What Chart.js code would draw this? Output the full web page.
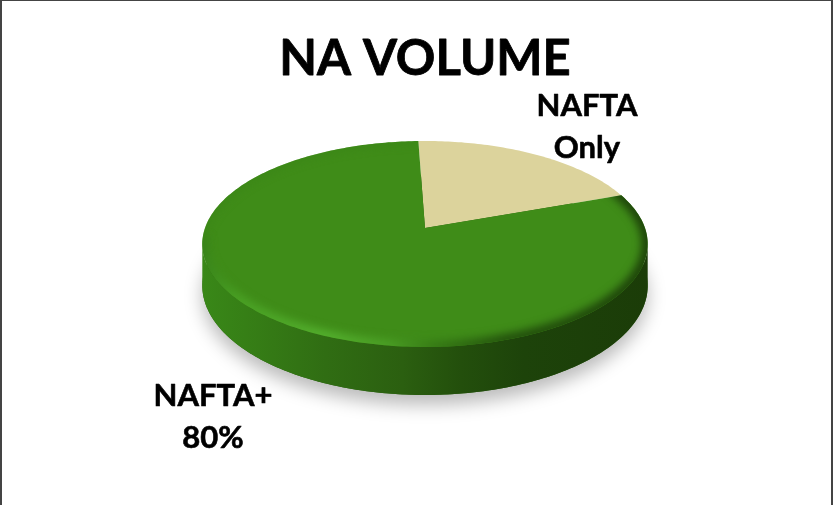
<!DOCTYPE html>
<html>
<head>
<meta charset="utf-8">
<title>NA Volume</title>
<script src="https://cdn.jsdelivr.net/npm/chart.js@4/dist/chart.umd.js"></script>
<style>
  html, body { margin: 0; padding: 0; background: #fff; overflow: hidden; }
  #frame {
    position: fixed; left: 0; top: 0; width: 833px; height: 505px; box-sizing: border-box;
    border-top: 1px solid #444; border-left: 2px solid #444; border-right: 2px solid #444;
    pointer-events: none;
  }
  canvas { display: block; }
</style>
</head>
<body>
<canvas id="volumeChart" width="833" height="505"></canvas>
<div id="frame"></div>
<script>
const chartTitle = 'NA VOLUME';
const categories = ['NAFTA Only', 'NAFTA+'];
const volumeShare = [20, 80];
const sliceColors = ['#dcd39c', '#3f8c18'];

// tilted disc: where the pie centre lands, and how the plane foreshortens
const disc = { cx: 425, cy: 228, halfW: 220, halfH: 100.5, persp: 0.155, depth: 40.6 };
const STEP = Math.PI / 180;

function project(angle, r = 1, drop = 0) {
  const u = r * Math.cos(angle);
  const v = r * Math.sin(angle);
  const w = 1 / (1 - disc.persp * v);
  return [disc.cx + disc.halfW * u * w, disc.cy + disc.halfH * v * w + drop * disc.depth * w];
}

function traceRim(ctx, from, to, drop = 0, start = false) {
  const n = Math.max(1, Math.ceil(Math.abs(to - from) / STEP));
  for (let i = 0; i <= n; i++) {
    const p = project(from + (to - from) * i / n, 1, drop);
    if (i === 0 && start) ctx.moveTo(p[0], p[1]);
    else ctx.lineTo(p[0], p[1]);
  }
}

function hGradient(ctx, stops) {
  const g = ctx.createLinearGradient(200, 0, 650, 0);
  stops.forEach(s => g.addColorStop(s[0], s[1]));
  return g;
}

function drawShadow(ctx) {
  ctx.save();
  ctx.shadowColor = 'rgba(0,0,0,0.27)';
  ctx.shadowBlur = 18;
  ctx.shadowOffsetY = 10;
  ctx.fillStyle = '#2a5f10';
  ctx.beginPath();
  traceRim(ctx, 0, Math.PI * 2, 1, true);
  ctx.closePath();
  ctx.fill();
  ctx.restore();
}

// front wall of the disc, only the part of each slice facing the viewer
function drawWall(ctx, arcs) {
  const frontA = Math.asin(disc.persp);
  const frontB = Math.PI - frontA;
  arcs.forEach(arc => {
    const from = Math.max(arc.startAngle, frontA);
    const to = Math.min(arc.endAngle, frontB);
    if (to <= from) return;
    ctx.beginPath();
    traceRim(ctx, from, to, 0, true);
    traceRim(ctx, to, from, 1);
    ctx.closePath();
    ctx.fillStyle = hGradient(ctx, [
      [0, '#398818'], [0.1, '#367f16'], [0.28, '#306d13'], [0.45, '#2b5f10'],
      [0.58, '#234f0c'], [0.72, '#1d430a'], [1, '#1b3c08']
    ]);
    ctx.fill();
  });
}

function sliceOutline(ctx, arc) {
  ctx.beginPath();
  ctx.moveTo(disc.cx, disc.cy);
  traceRim(ctx, arc.startAngle, arc.endAngle);
  ctx.closePath();
}

function drawTop(ctx, arcs) {
  arcs.forEach(arc => {
    sliceOutline(ctx, arc);
    ctx.fillStyle = arc.options.backgroundColor;
    ctx.fill();
  });
}

// soft bevel on the rim of the large slice
function drawBevel(ctx, arc) {
  ctx.save();
  sliceOutline(ctx, arc);
  ctx.clip();
  ctx.filter = 'blur(4px)';
  ctx.lineWidth = 12;
  ctx.strokeStyle = hGradient(ctx, [
    [0, '#37811a'], [0.08, '#49a024'], [0.28, '#54b02e'], [0.42, '#4a9e25'],
    [0.52, '#367a15'], [0.68, '#224f0c'], [1, '#1c4009']
  ]);
  ctx.beginPath();
  traceRim(ctx, arc.startAngle - 0.1, 175 * STEP, 0, true);
  ctx.stroke();
  ctx.strokeStyle = '#3a8517';
  ctx.lineWidth = 5;
  ctx.beginPath();
  traceRim(ctx, 170 * STEP, arc.endAngle, 0, true);
  ctx.stroke();
  ctx.restore();
}

const tiltedPie = {
  id: 'tiltedPie',
  beforeDatasetDraw(chart, args) {
    const ctx = chart.ctx;
    const arcs = chart.getDatasetMeta(args.index).data;
    const largest = arcs.reduce((a, b) => (b.circumference > a.circumference ? b : a));
    drawShadow(ctx);
    drawWall(ctx, arcs);
    drawTop(ctx, arcs);
    drawBevel(ctx, largest);
    return false;
  }
};

function heavyText(ctx, text, x, y) {
  ctx.fillText(text, x, y);
  ctx.strokeText(text, x, y);
}

const chartLabels = {
  id: 'chartLabels',
  afterDraw(chart) {
    const ctx = chart.ctx;
    ctx.save();
    ctx.fillStyle = '#000';
    ctx.strokeStyle = '#000';
    ctx.lineJoin = 'round';
    ctx.textAlign = 'center';
    ctx.font = 'bold 49px Lato';
    ctx.lineWidth = 0.8;
    heavyText(ctx, chartTitle, 425, 75);
    ctx.font = 'bold 31px Lato';
    ctx.lineWidth = 0.6;
    heavyText(ctx, 'NAFTA', 587, 116);
    heavyText(ctx, 'Only', 587, 158);
    heavyText(ctx, categories[1], 213, 406);
    heavyText(ctx, volumeShare[1] + '%', 213, 448);
    ctx.restore();
  }
};

new Chart(document.getElementById('volumeChart'), {
  type: 'pie',
  data: {
    labels: categories,
    datasets: [{ data: volumeShare, backgroundColor: sliceColors, borderWidth: 0 }]
  },
  options: {
    responsive: false,
    animation: false,
    rotation: -2,
    plugins: {
      legend: { display: false },
      tooltip: { enabled: false }
    }
  },
  plugins: [tiltedPie, chartLabels]
});
</script>
</body>
</html>
